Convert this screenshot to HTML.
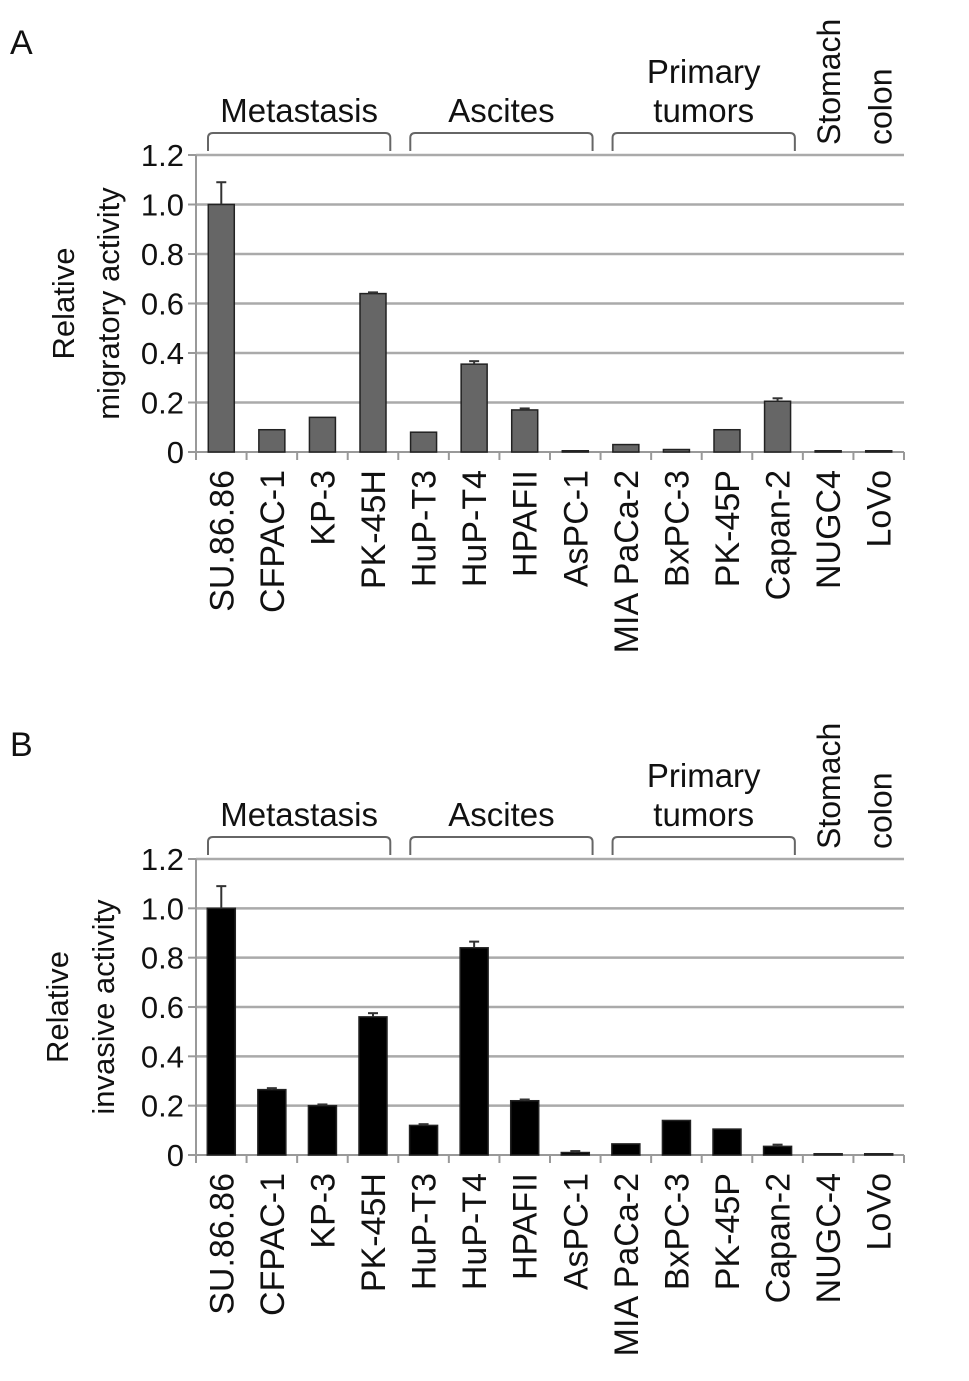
<!DOCTYPE html>
<html><head><meta charset="utf-8"><style>
body{margin:0;background:#fff}
svg text{font-family:"Liberation Sans",sans-serif;fill:#111}
</style></head><body>
<svg width="969" height="1376" xmlns="http://www.w3.org/2000/svg" id="fig"></svg>
<script>
const categoriesA=["SU.86.86","CFPAC-1","KP-3","PK-45H","HuP-T3","HuP-T4","HPAFII","AsPC-1","MIA PaCa-2","BxPC-3","PK-45P","Capan-2","NUGC4","LoVo"];
const categoriesB=["SU.86.86","CFPAC-1","KP-3","PK-45H","HuP-T3","HuP-T4","HPAFII","AsPC-1","MIA PaCa-2","BxPC-3","PK-45P","Capan-2","NUGC-4","LoVo"];
const valuesA=[1.0,0.09,0.14,0.64,0.08,0.355,0.17,0.005,0.03,0.01,0.09,0.205,0.005,0.005];
const errorsA=[0.09,0.003,0.004,0.005,0.003,0.012,0.006,0.002,0.004,0.002,0.004,0.012,0.001,0.001];
const valuesB=[1.0,0.265,0.2,0.56,0.12,0.84,0.22,0.01,0.045,0.14,0.105,0.035,0.005,0.005];
const errorsB=[0.09,0.006,0.005,0.015,0.005,0.025,0.005,0.006,0.004,0.004,0.004,0.007,0.001,0.001];
const tickLabels=["0","0.2","0.4","0.6","0.8","1.0","1.2"];
const tickValues=[0,0.2,0.4,0.6,0.8,1.0,1.2];
const svg=document.getElementById('fig');
const NS="http://www.w3.org/2000/svg";
function mk(t,a,p){const e=document.createElementNS(NS,t);for(const k in a)e.setAttribute(k,a[k]);(p||svg).appendChild(e);return e;}
function panel(cfg){
  const g=mk('g',{});
  
  
  const x0=196,x1=904,y0=cfg.y0,y12=cfg.y12;
  const n=cfg.cats.length,cw=(x1-x0)/n;
  const y=v=>y0-(v/1.2)*(y0-y12);
  const xc=i=>x0+cw*(i+0.5);
  tickValues.forEach((v,i)=>{
    if(v>0){const l=mk('line',{x1:x0,x2:x1,y1:y(v),y2:y(v),stroke:'#aaa','stroke-width':2.5},g);
    }
    const t=mk('text',{x:x0-12,y:y(v)+11,'font-size':31,'text-anchor':'end'},g);t.textContent=tickLabels[i];
    
    mk('line',{x1:x0-8,x2:x0,y1:y(v),y2:y(v),stroke:'#999','stroke-width':2},g);
  });
  mk('line',{x1:x0,x2:x0,y1:y12,y2:y0,stroke:'#999','stroke-width':2},g);
  mk('line',{x1:x0,x2:x1,y1:y0,y2:y0,stroke:'#999','stroke-width':2},g);
  for(let i=0;i<=n;i++)mk('line',{x1:x0+cw*i,x2:x0+cw*i,y1:y0,y2:y0+8,stroke:'#999','stroke-width':2},g);
  cfg.vals.forEach((v,i)=>{
    const bw=cfg.bw;
    const r=mk('rect',{x:xc(i)-bw/2,y:y(v),width:bw,height:Math.max(y0-y(v),1),fill:cfg.fill,stroke:'#222','stroke-width':1.5},g);
    
    
    const e=cfg.errs[i];
    if(e>0.004){mk('line',{x1:xc(i),x2:xc(i),y1:y(v),y2:y(v+e),stroke:'#333','stroke-width':2},g);
    mk('line',{x1:xc(i)-5,x2:xc(i)+5,y1:y(v+e),y2:y(v+e),stroke:'#333','stroke-width':2},g);}
    const t=mk('text',{x:0,y:0,'font-size':34,'text-anchor':'end',transform:`translate(${xc(i)+12},${y0+18}) rotate(-90)`},g);
    t.textContent=cfg.cats[i];
  });
  const groups=[["Metastasis",0,4],["Ascites",4,8],["Primary tumors",8,12]];
  groups.forEach(([lab,a,b])=>{
    const xa=x0+cw*a+12,xb=x0+cw*b-8,by=y12-22;
    const p=mk('path',{d:`M${xa},${y12-4} L${xa},${by+5} Q${xa},${by} ${xa+5},${by} L${xb-5},${by} Q${xb},${by} ${xb},${by+5} L${xb},${y12-4}`,fill:'none',stroke:'#666','stroke-width':2},g);
    
    const mx=(xa+xb)/2;
    if(lab==="Primary tumors"){
      let t=mk('text',{x:mx,y:by-50,'font-size':33,'text-anchor':'middle'},g);t.textContent="Primary";
      
      t=mk('text',{x:mx,y:by-11,'font-size':33,'text-anchor':'middle'},g);t.textContent="tumors";
      
    }else{
      const t=mk('text',{x:mx,y:by-11,'font-size':33,'text-anchor':'middle'},g);t.textContent=lab;
      
    }
  });
  [["Stomach",xc(12)+12],["colon",xc(13)+13]].forEach(([s,xx])=>{
    const t=mk('text',{x:0,y:0,'font-size':32,'text-anchor':'start',transform:`translate(${xx},${y12-10}) rotate(-90)`},g);
    t.textContent=s;
  });
  const ym=(y0+y12)/2;
  cfg.ylab.forEach((s,k)=>{
    const t=mk('text',{x:0,y:0,'font-size':31,'text-anchor':'middle',transform:`translate(${cfg.ylx[k]},${ym}) rotate(-90)`},g);
    t.textContent=s;
  });
  const pl=mk('text',{x:10,y:cfg.ly,'font-size':34},g);pl.textContent=cfg.letter;
  
}
panel({name:'panel-a-migratory',cats:categoriesA,vals:valuesA,errs:errorsA,y0:452,y12:155,fill:'#666',bw:26,ylab:["Relative","migratory activity"],ylx:[74,119],letter:"A",ly:54});
panel({name:'panel-b-invasive',cats:categoriesB,vals:valuesB,errs:errorsB,y0:1155,y12:859,fill:'#000',bw:28,ylab:["Relative","invasive activity"],ylx:[68,114],letter:"B",ly:756});
</script>
</body></html>
